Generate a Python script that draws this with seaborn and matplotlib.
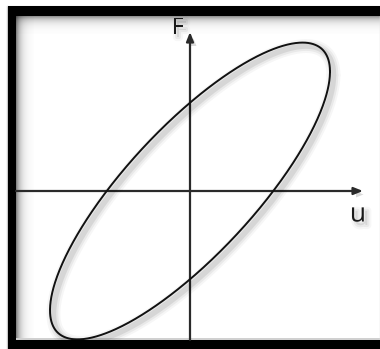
import numpy as np
import pandas as pd
import matplotlib
matplotlib.use("Agg")
import matplotlib.pyplot as plt
import matplotlib.patheffects as pe
from matplotlib.patches import Rectangle
import seaborn as sns

# Hysteresis loop of a linear viscoelastic element under harmonic loading
u_amplitude = 1.0        # displacement amplitude
F_amplitude = 1.06       # force amplitude
phase_lag_deg = 36.5     # phase lag between force and displacement
axis_labels = ["u", "F"]

W, H = 380, 349
DPI = 100

sns.set_theme(style="white")
plt.rcParams["font.family"] = ["Open Sans", "DejaVu Sans"]

fig = plt.figure(figsize=(W / DPI, H / DPI), dpi=DPI)
fig.patch.set_facecolor("white")

# ---- background layer in pixel coordinates: frame and its inner shadow ----
bg = fig.add_axes([0, 0, 1, 1], zorder=0)
bg.set_xlim(0, W)
bg.set_ylim(H, 0)
bg.axis("off")

def fade(length, strength, scale):
    d = np.arange(length, dtype=float)
    return strength * np.exp(-d / scale)

# inner shadow along the left edge
a = fade(18, 0.48, 4.5)
img = np.zeros((1, a.size, 4))
img[0, :, 3] = a
bg.imshow(img, extent=(16, 34, 340, 16), aspect="auto", interpolation="bilinear", zorder=1)
# inner shadow along the top edge
a = fade(18, 0.42, 4.5)
img = np.zeros((a.size, 1, 4))
img[:, 0, 3] = a
bg.imshow(img, extent=(16, W, 34, 16), aspect="auto", interpolation="bilinear", zorder=1)
# faint line above the bottom bar
bg.add_patch(Rectangle((16, 338), W - 16, 2, color="#d0d0d0", lw=0, zorder=1))

# black frame (left, top, bottom)
bg.add_patch(Rectangle((7.5, 6), 8.5, H - 6, color="black", lw=0, zorder=2))
bg.add_patch(Rectangle((7.5, 6), W - 7.5, 10, color="black", lw=0, zorder=2))
bg.add_patch(Rectangle((7.5, 340), W - 7.5, 9, color="black", lw=0, zorder=2))
# thin grey outline outside the frame
bg.plot([7, 7], [6, H], color="#c8c8c8", lw=1, zorder=1)
bg.plot([7, W], [5.5, 5.5], color="#dcdcdc", lw=1, zorder=1)
bg.plot([379.5, 379.5], [16, 340], color="#e0e0e0", lw=1, zorder=1)

# ---- main drawing area ----
left_px, right_px, top_px, bottom_px = 16, 379, 16, 340
ax = fig.add_axes([left_px / W, (H - bottom_px) / H,
                   (right_px - left_px) / W, (bottom_px - top_px) / H], zorder=1)
ax.patch.set_alpha(0)
ax.axis("off")

scale = 140.0  # pixels per unit
ox, oy = 190.0, 191.0  # origin in pixels
ax.set_xlim((left_px - ox) / scale, (right_px - ox) / scale)
ax.set_ylim((oy - bottom_px) / scale, (oy - top_px) / scale)

def soft_shadow(offset=(2.5, -2.5)):
    return [pe.SimpleLineShadow(offset=offset, shadow_color="black", alpha=a, linewidth=w)
            for w, a in ((10, 0.035), (7, 0.05), (4, 0.08))] + [pe.Normal()]

# coordinate axes with arrowheads
x0, x1 = ax.get_xlim()
y0, y1 = ax.get_ylim()
x_tip = (363 - ox) / scale
y_tip = (oy - 32) / scale
arrow_style = dict(arrowstyle="-|>,head_length=0.45,head_width=0.18", color="#2a2a2a",
                   lw=1.6, shrinkA=0, shrinkB=0)
for start, end in (((x0, 0), (x_tip, 0)), ((0, y0), (0, y_tip))):
    ann = ax.annotate("", xy=end, xytext=start, arrowprops=arrow_style, zorder=2)
    ann.arrow_patch.set_path_effects([pe.SimplePatchShadow(offset=(2.5, -2.5), alpha=0.15,
                                                           shadow_rgbFace="black"), pe.Normal()])

# the loop
t = np.linspace(0, 2 * np.pi, 721)
phi = np.deg2rad(phase_lag_deg)
loop = pd.DataFrame({
    "u": u_amplitude * np.cos(t),
    "F": F_amplitude * np.cos(t - phi),
})
sns.lineplot(data=loop, x="u", y="F", sort=False, estimator=None, color="#111111",
             lw=1.4, ax=ax, zorder=3)
ax.lines[-1].set_path_effects(soft_shadow())
ax.set_xlabel("")
ax.set_ylabel("")

def text_shadow():
    return [pe.Stroke(linewidth=w, foreground="black", alpha=a, offset=(2.5, -2.5))
            for w, a in ((6, 0.03), (3, 0.05))] + [pe.Normal()]

ax.text((358 - ox) / scale, (oy - 215) / scale, axis_labels[0], fontsize=19,
        ha="center", va="center", color="#1a1a1a", zorder=4, path_effects=text_shadow())
ax.text((177.5 - ox) / scale, (oy - 28) / scale, axis_labels[1], fontsize=16.5,
        ha="center", va="center", color="#1a1a1a", zorder=4, path_effects=text_shadow())

fig.savefig("out.png", dpi=DPI, facecolor="white")
